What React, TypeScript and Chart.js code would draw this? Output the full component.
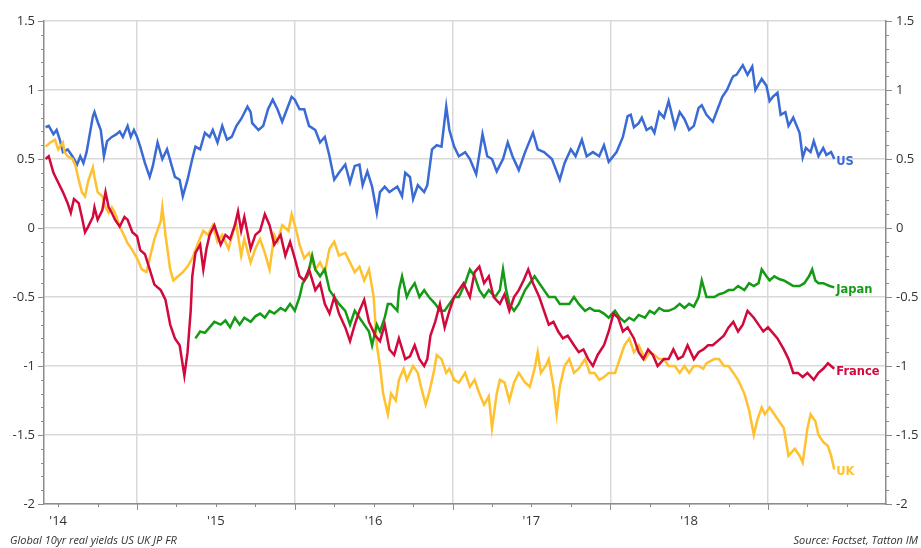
import React, { useEffect, useRef } from 'react';
import { Chart, registerables } from 'chart.js';

Chart.register(...registerables);

// [decimal year, real yield %]
const US: [number, number][] = [
  [2014.42, 0.73], [2014.44, 0.74], [2014.47, 0.68], [2014.49, 0.71], [2014.51, 0.64], [2014.53, 0.55],
  [2014.56, 0.57], [2014.59, 0.52], [2014.62, 0.46], [2014.64, 0.52], [2014.66, 0.47], [2014.68, 0.55],
  [2014.72, 0.81], [2014.73, 0.84], [2014.75, 0.77], [2014.77, 0.71], [2014.79, 0.52], [2014.81, 0.63],
  [2014.84, 0.66], [2014.87, 0.68], [2014.89, 0.70], [2014.91, 0.66], [2014.94, 0.74], [2014.96, 0.66],
  [2014.98, 0.71], [2015.00, 0.66], [2015.02, 0.59], [2015.05, 0.47], [2015.08, 0.37], [2015.10, 0.45],
  [2015.13, 0.62], [2015.16, 0.50], [2015.19, 0.57], [2015.22, 0.45], [2015.24, 0.37], [2015.27, 0.35],
  [2015.29, 0.23], [2015.32, 0.35], [2015.35, 0.50], [2015.37, 0.59], [2015.40, 0.57], [2015.43, 0.69],
  [2015.46, 0.66], [2015.48, 0.71], [2015.51, 0.62], [2015.54, 0.74], [2015.57, 0.64], [2015.60, 0.66],
  [2015.63, 0.74], [2015.66, 0.79], [2015.70, 0.88], [2015.72, 0.84], [2015.73, 0.76], [2015.77, 0.71],
  [2015.80, 0.74], [2015.83, 0.86], [2015.86, 0.93], [2015.89, 0.86], [2015.92, 0.77], [2015.95, 0.86],
  [2015.98, 0.95], [2016.00, 0.93], [2016.03, 0.86], [2016.06, 0.86], [2016.09, 0.74], [2016.13, 0.71],
  [2016.16, 0.62], [2016.19, 0.66], [2016.22, 0.52], [2016.25, 0.35], [2016.28, 0.40], [2016.32, 0.46],
  [2016.35, 0.33], [2016.38, 0.45], [2016.41, 0.46], [2016.43, 0.31], [2016.46, 0.41], [2016.49, 0.30],
  [2016.52, 0.11], [2016.54, 0.26], [2016.57, 0.30], [2016.60, 0.26], [2016.65, 0.30], [2016.68, 0.23],
  [2016.70, 0.40], [2016.73, 0.37], [2016.75, 0.21], [2016.78, 0.31], [2016.82, 0.26], [2016.84, 0.31],
  [2016.87, 0.57], [2016.90, 0.60], [2016.93, 0.59], [2016.96, 0.88], [2016.98, 0.71], [2017.01, 0.59],
  [2017.04, 0.52], [2017.08, 0.55], [2017.11, 0.50], [2017.15, 0.39], [2017.19, 0.68], [2017.22, 0.52],
  [2017.25, 0.50], [2017.28, 0.41], [2017.32, 0.50], [2017.35, 0.62], [2017.38, 0.52], [2017.42, 0.42],
  [2017.46, 0.55], [2017.51, 0.69], [2017.54, 0.57], [2017.58, 0.55], [2017.63, 0.50], [2017.68, 0.35],
  [2017.71, 0.47], [2017.75, 0.57], [2017.78, 0.52], [2017.82, 0.64], [2017.85, 0.52], [2017.89, 0.55],
  [2017.93, 0.52], [2017.96, 0.60], [2017.99, 0.48], [2018.04, 0.55], [2018.08, 0.66], [2018.11, 0.81],
  [2018.13, 0.82], [2018.15, 0.73], [2018.18, 0.76], [2018.20, 0.80], [2018.23, 0.71], [2018.26, 0.73],
  [2018.28, 0.69], [2018.31, 0.84], [2018.34, 0.80], [2018.37, 0.92], [2018.41, 0.73], [2018.44, 0.84],
  [2018.47, 0.79], [2018.50, 0.71], [2018.53, 0.74], [2018.56, 0.87], [2018.58, 0.89], [2018.61, 0.82],
  [2018.65, 0.77], [2018.68, 0.86], [2018.71, 0.95], [2018.74, 1.00], [2018.77, 1.08], [2018.78, 1.10],
  [2018.80, 1.11], [2018.84, 1.18], [2018.87, 1.11], [2018.90, 1.17], [2018.92, 1.00], [2018.96, 1.08],
  [2018.99, 1.03], [2019.01, 0.92], [2019.03, 0.95], [2019.06, 0.98], [2019.08, 0.82], [2019.11, 0.84],
  [2019.13, 0.74], [2019.16, 0.80], [2019.20, 0.69], [2019.22, 0.51], [2019.24, 0.58], [2019.27, 0.55],
  [2019.29, 0.63], [2019.32, 0.52], [2019.35, 0.58], [2019.37, 0.53], [2019.40, 0.55], [2019.42, 0.50],
];

const UK: [number, number][] = [
  [2014.42, 0.59], [2014.45, 0.62], [2014.48, 0.64], [2014.50, 0.57], [2014.53, 0.62], [2014.54, 0.55],
  [2014.56, 0.52], [2014.59, 0.50], [2014.61, 0.45], [2014.63, 0.35], [2014.65, 0.26], [2014.67, 0.23],
  [2014.69, 0.34], [2014.72, 0.44], [2014.73, 0.37], [2014.75, 0.26], [2014.78, 0.23], [2014.80, 0.15],
  [2014.82, 0.11], [2014.84, 0.15], [2014.86, 0.11], [2014.89, 0.01], [2014.92, -0.06], [2014.94, -0.11],
  [2014.97, -0.16], [2015.00, -0.22], [2015.03, -0.30], [2015.06, -0.32], [2015.08, -0.22], [2015.11, -0.08],
  [2015.15, 0.05], [2015.16, 0.15], [2015.18, -0.05], [2015.21, -0.30], [2015.23, -0.38], [2015.26, -0.35],
  [2015.29, -0.32], [2015.32, -0.28], [2015.35, -0.22], [2015.39, -0.10], [2015.42, -0.02], [2015.45, -0.05],
  [2015.48, 0.02], [2015.51, -0.10], [2015.54, -0.05], [2015.58, -0.15], [2015.61, -0.02], [2015.63, 0.02],
  [2015.66, -0.20], [2015.68, -0.08], [2015.72, -0.25], [2015.75, -0.15], [2015.78, -0.08], [2015.81, -0.18],
  [2015.84, -0.30], [2015.87, -0.05], [2015.89, -0.10], [2015.92, 0.02], [2015.96, -0.02], [2015.98, 0.10],
  [2016.01, -0.02], [2016.03, -0.12], [2016.06, -0.22], [2016.09, -0.18], [2016.13, -0.30], [2016.16, -0.25],
  [2016.19, -0.32], [2016.22, -0.15], [2016.25, -0.10], [2016.28, -0.20], [2016.32, -0.18], [2016.35, -0.25],
  [2016.38, -0.32], [2016.41, -0.28], [2016.44, -0.38], [2016.47, -0.30], [2016.50, -0.50], [2016.52, -0.85],
  [2016.54, -1.00], [2016.56, -1.20], [2016.59, -1.35], [2016.61, -1.20], [2016.64, -1.25], [2016.66, -1.10],
  [2016.69, -1.02], [2016.71, -1.10], [2016.75, -1.00], [2016.78, -1.05], [2016.80, -1.15], [2016.83, -1.28],
  [2016.85, -1.20], [2016.88, -1.05], [2016.90, -0.92], [2016.93, -0.95], [2016.96, -1.05], [2016.98, -1.02],
  [2017.01, -1.10], [2017.04, -1.12], [2017.08, -1.05], [2017.11, -1.15], [2017.14, -1.10], [2017.17, -1.20],
  [2017.20, -1.28], [2017.23, -1.22], [2017.25, -1.45], [2017.28, -1.20], [2017.30, -1.10], [2017.33, -1.12],
  [2017.36, -1.25], [2017.39, -1.12], [2017.42, -1.05], [2017.46, -1.12], [2017.49, -1.15], [2017.52, -1.02],
  [2017.54, -0.90], [2017.56, -1.05], [2017.59, -1.00], [2017.61, -0.95], [2017.64, -1.15], [2017.66, -1.35],
  [2017.68, -1.15], [2017.71, -1.00], [2017.74, -0.95], [2017.77, -1.05], [2017.80, -1.02], [2017.84, -0.95],
  [2017.87, -1.05], [2017.90, -1.05], [2017.93, -1.10], [2017.96, -1.08], [2017.99, -1.05], [2018.03, -1.05],
  [2018.06, -0.95], [2018.09, -0.85], [2018.12, -0.80], [2018.15, -0.90], [2018.18, -0.85], [2018.22, -0.95],
  [2018.25, -0.90], [2018.28, -0.92], [2018.31, -0.95], [2018.34, -0.95], [2018.37, -1.00], [2018.41, -1.00],
  [2018.44, -1.05], [2018.47, -1.00], [2018.50, -1.05], [2018.53, -1.00], [2018.56, -1.00], [2018.59, -1.02],
  [2018.61, -0.98], [2018.66, -0.95], [2018.69, -0.95], [2018.72, -1.00], [2018.75, -1.00], [2018.78, -1.05],
  [2018.81, -1.10], [2018.85, -1.20], [2018.88, -1.32], [2018.91, -1.50], [2018.93, -1.40], [2018.96, -1.30],
  [2018.98, -1.35], [2019.01, -1.30], [2019.04, -1.35], [2019.07, -1.40], [2019.10, -1.45], [2019.13, -1.65],
  [2019.17, -1.60], [2019.20, -1.65], [2019.22, -1.70], [2019.25, -1.45], [2019.27, -1.35], [2019.30, -1.40],
  [2019.32, -1.50], [2019.35, -1.55], [2019.38, -1.58], [2019.40, -1.65], [2019.42, -1.75],
];

const JAPAN: [number, number][] = [
  [2015.37, -0.80], [2015.40, -0.75], [2015.43, -0.76], [2015.46, -0.72], [2015.49, -0.68], [2015.53, -0.70],
  [2015.56, -0.67], [2015.59, -0.72], [2015.62, -0.65], [2015.65, -0.70], [2015.68, -0.65], [2015.72, -0.68],
  [2015.75, -0.64], [2015.78, -0.62], [2015.81, -0.65], [2015.84, -0.60], [2015.87, -0.62], [2015.91, -0.58],
  [2015.94, -0.60], [2015.97, -0.55], [2016.00, -0.60], [2016.03, -0.50], [2016.05, -0.40], [2016.08, -0.35],
  [2016.09, -0.30], [2016.11, -0.20], [2016.13, -0.30], [2016.16, -0.35], [2016.19, -0.30], [2016.22, -0.45],
  [2016.25, -0.50], [2016.28, -0.55], [2016.32, -0.60], [2016.35, -0.70], [2016.38, -0.60], [2016.41, -0.65],
  [2016.44, -0.70], [2016.47, -0.75], [2016.49, -0.85], [2016.52, -0.70], [2016.54, -0.75], [2016.57, -0.65],
  [2016.59, -0.55], [2016.61, -0.55], [2016.65, -0.60], [2016.66, -0.45], [2016.68, -0.35], [2016.71, -0.50],
  [2016.73, -0.45], [2016.76, -0.40], [2016.79, -0.50], [2016.82, -0.45], [2016.85, -0.50], [2016.89, -0.55],
  [2016.92, -0.60], [2016.95, -0.60], [2016.98, -0.55], [2017.01, -0.50], [2017.04, -0.50], [2017.08, -0.40],
  [2017.11, -0.30], [2017.14, -0.35], [2017.17, -0.45], [2017.20, -0.50], [2017.23, -0.45], [2017.27, -0.50],
  [2017.30, -0.45], [2017.32, -0.30], [2017.34, -0.45], [2017.36, -0.55], [2017.39, -0.60], [2017.42, -0.55],
  [2017.46, -0.45], [2017.49, -0.40], [2017.52, -0.35], [2017.55, -0.40], [2017.58, -0.45], [2017.61, -0.50],
  [2017.65, -0.50], [2017.68, -0.55], [2017.71, -0.55], [2017.74, -0.55], [2017.77, -0.50], [2017.80, -0.55],
  [2017.84, -0.60], [2017.87, -0.58], [2017.90, -0.60], [2017.93, -0.60], [2017.96, -0.62], [2017.99, -0.65],
  [2018.03, -0.60], [2018.06, -0.65], [2018.09, -0.68], [2018.12, -0.65], [2018.15, -0.67], [2018.18, -0.63],
  [2018.22, -0.65], [2018.25, -0.60], [2018.28, -0.62], [2018.31, -0.58], [2018.34, -0.60], [2018.37, -0.60],
  [2018.41, -0.58], [2018.44, -0.55], [2018.47, -0.58], [2018.50, -0.55], [2018.53, -0.57], [2018.56, -0.50],
  [2018.58, -0.38], [2018.61, -0.50], [2018.63, -0.50], [2018.66, -0.50], [2018.69, -0.48], [2018.72, -0.47],
  [2018.75, -0.45], [2018.78, -0.45], [2018.81, -0.42], [2018.85, -0.45], [2018.88, -0.40], [2018.91, -0.42],
  [2018.94, -0.40], [2018.96, -0.30], [2018.99, -0.35], [2019.01, -0.38], [2019.04, -0.35], [2019.07, -0.37],
  [2019.10, -0.38], [2019.13, -0.40], [2019.16, -0.42], [2019.20, -0.42], [2019.23, -0.40], [2019.26, -0.35],
  [2019.28, -0.30], [2019.30, -0.38], [2019.32, -0.40], [2019.35, -0.40], [2019.39, -0.42], [2019.42, -0.43],
];

const FRANCE: [number, number][] = [
  [2014.42, 0.50], [2014.44, 0.52], [2014.47, 0.40], [2014.50, 0.33], [2014.53, 0.26], [2014.56, 0.18],
  [2014.58, 0.11], [2014.60, 0.21], [2014.63, 0.18], [2014.65, 0.08], [2014.67, -0.03], [2014.69, 0.01],
  [2014.72, 0.08], [2014.73, 0.15], [2014.75, 0.06], [2014.78, 0.13], [2014.80, 0.26], [2014.82, 0.15],
  [2014.84, 0.11], [2014.86, 0.06], [2014.89, 0.01], [2014.92, 0.08], [2014.94, 0.06], [2014.97, -0.03],
  [2015.00, -0.06], [2015.02, -0.16], [2015.05, -0.19], [2015.08, -0.30], [2015.11, -0.41], [2015.15, -0.45],
  [2015.18, -0.52], [2015.21, -0.70], [2015.24, -0.80], [2015.27, -0.85], [2015.30, -1.07], [2015.32, -0.90],
  [2015.34, -0.60], [2015.35, -0.35], [2015.37, -0.18], [2015.40, -0.12], [2015.42, -0.30], [2015.44, -0.15],
  [2015.46, -0.05], [2015.49, 0.02], [2015.53, -0.12], [2015.56, -0.05], [2015.59, -0.08], [2015.62, 0.02],
  [2015.64, 0.12], [2015.66, -0.02], [2015.68, 0.08], [2015.72, -0.15], [2015.75, -0.05], [2015.78, -0.02],
  [2015.81, 0.10], [2015.84, 0.02], [2015.87, -0.12], [2015.91, -0.05], [2015.94, -0.20], [2015.97, -0.10],
  [2016.00, -0.22], [2016.03, -0.35], [2016.06, -0.38], [2016.09, -0.30], [2016.13, -0.45], [2016.16, -0.40],
  [2016.19, -0.55], [2016.22, -0.62], [2016.25, -0.50], [2016.28, -0.62], [2016.32, -0.72], [2016.35, -0.82],
  [2016.38, -0.70], [2016.41, -0.60], [2016.44, -0.52], [2016.47, -0.68], [2016.51, -0.78], [2016.54, -0.82],
  [2016.57, -0.70], [2016.60, -0.88], [2016.63, -0.92], [2016.66, -0.80], [2016.70, -0.95], [2016.73, -0.93],
  [2016.76, -0.85], [2016.79, -0.95], [2016.82, -1.00], [2016.84, -0.95], [2016.86, -0.78], [2016.89, -0.68],
  [2016.92, -0.55], [2016.95, -0.72], [2016.98, -0.60], [2017.01, -0.50], [2017.04, -0.45], [2017.07, -0.40],
  [2017.11, -0.50], [2017.14, -0.32], [2017.17, -0.28], [2017.20, -0.40], [2017.23, -0.35], [2017.26, -0.50],
  [2017.30, -0.55], [2017.33, -0.48], [2017.36, -0.60], [2017.39, -0.50], [2017.42, -0.45], [2017.45, -0.38],
  [2017.48, -0.30], [2017.51, -0.40], [2017.55, -0.50], [2017.58, -0.60], [2017.61, -0.70], [2017.64, -0.68],
  [2017.67, -0.75], [2017.70, -0.80], [2017.73, -0.78], [2017.77, -0.85], [2017.80, -0.90], [2017.83, -0.88],
  [2017.86, -0.95], [2017.89, -1.00], [2017.92, -0.92], [2017.96, -0.85], [2017.99, -0.75], [2018.02, -0.62],
  [2018.05, -0.65], [2018.08, -0.75], [2018.11, -0.72], [2018.15, -0.80], [2018.18, -0.90], [2018.21, -0.95],
  [2018.24, -0.88], [2018.27, -0.92], [2018.30, -1.00], [2018.34, -0.95], [2018.37, -0.95], [2018.40, -0.88],
  [2018.43, -0.95], [2018.46, -0.93], [2018.49, -0.85], [2018.53, -0.95], [2018.56, -0.90], [2018.59, -0.88],
  [2018.62, -0.85], [2018.65, -0.85], [2018.68, -0.82], [2018.72, -0.78], [2018.75, -0.72], [2018.78, -0.68],
  [2018.81, -0.75], [2018.84, -0.70], [2018.87, -0.60], [2018.91, -0.65], [2018.94, -0.70], [2018.97, -0.75],
  [2019.00, -0.72], [2019.03, -0.76], [2019.06, -0.80], [2019.10, -0.88], [2019.13, -0.95], [2019.16, -1.05],
  [2019.19, -1.05], [2019.22, -1.08], [2019.25, -1.05], [2019.29, -1.10], [2019.32, -1.05], [2019.35, -1.02],
  [2019.38, -0.98], [2019.42, -1.02],
];

const SERIES_NAMES = ['France', 'Japan', 'UK', 'US'];
const SERIES_COLORS = ['#d2093c', '#159a15', '#ffc12e', '#3a6ad4'];
const Y_TICKS = [-2, -1.5, -1, -0.5, 0, 0.5, 1, 1.5];
const YEARS = [2014, 2015, 2016, 2017, 2018, 2019];
const YEAR_LABELS: Record<number, string> = { 2014: "'14", 2015: "'15", 2016: "'16", 2017: "'17", 2018: "'18" };
const X_MIN = 2014.41;
const X_MAX = 2019.748;
const TITLE_LEFT = 'Global 10yr real yields US UK JP FR';
const TITLE_RIGHT = 'Source: Factset, Tatton IM';

const AXIS_COLOR = '#8c8c8c';
const GRID_COLOR = '#d9d9d9';
const TEXT_COLOR = '#333333';
const TICK_FONT = { family: '"Open Sans", sans-serif', size: 13 };

const quarterTicks: number[] = [];
YEARS.forEach((yr) => {
  [0, 0.25, 0.5, 0.75].forEach((q) => {
    const v = yr + q;
    if (v >= X_MIN && v <= X_MAX) quarterTicks.push(v);
  });
});

const isInt = (v: number) => Math.abs(v - Math.round(v)) < 1e-6;

const tickMarksPlugin = {
  id: 'tickMarks',
  afterDraw(chart: any) {
    const { ctx, chartArea, scales } = chart;
    const ys = scales.y;
    const xs = scales.x;
    ctx.save();
    ctx.strokeStyle = AXIS_COLOR;
    ctx.lineWidth = 1;
    ctx.beginPath();
    for (let k = -20; k <= 15; k++) {
      const py = Math.round(ys.getPixelForValue(k / 10)) + 0.5;
      const len = k % 5 === 0 ? 6 : 3;
      ctx.moveTo(chartArea.left - len, py);
      ctx.lineTo(chartArea.left, py);
      ctx.moveTo(chartArea.right, py);
      ctx.lineTo(chartArea.right + len, py);
    }
    quarterTicks.forEach((v) => {
      const px = Math.round(xs.getPixelForValue(v)) + 0.5;
      const len = isInt(v) ? 6 : 3;
      ctx.moveTo(px, chartArea.bottom);
      ctx.lineTo(px, chartArea.bottom + len);
    });
    ctx.stroke();

    // footer texts
    ctx.fillStyle = TEXT_COLOR;
    ctx.font = 'italic 11px "Open Sans", sans-serif';
    ctx.textBaseline = 'middle';
    ctx.textAlign = 'left';
    ctx.fillText(TITLE_LEFT, 10, 541);
    ctx.textAlign = 'right';
    ctx.fillText(TITLE_RIGHT, 918, 541);

    // series end labels
    ctx.font = 'bold 11.5px "DejaVu Sans", sans-serif';
    ctx.textAlign = 'left';
    chart.data.datasets.forEach((ds: any, i: number) => {
      const last = ds.data[ds.data.length - 1];
      const px = xs.getPixelForValue(last.x) + 2;
      const py = ys.getPixelForValue(last.y) + 3;
      ctx.fillStyle = SERIES_COLORS[i];
      ctx.fillText(SERIES_NAMES[i], px, py);
    });
    ctx.restore();
  },
};

export default function App() {
  const canvasRef = useRef<HTMLCanvasElement | null>(null);

  useEffect(() => {
    if (!canvasRef.current) return;
    const all = [FRANCE, JAPAN, UK, US];
    const yAxisCommon = {
      type: 'linear' as const,
      min: -2,
      max: 1.5,
      afterBuildTicks: (s: any) => {
        s.ticks = Y_TICKS.map((v) => ({ value: v }));
      },
      border: { color: AXIS_COLOR, width: 1.5 },
    };
    const chart = new Chart(canvasRef.current, {
      type: 'line',
      data: {
        datasets: all.map((series, i) => ({
          label: SERIES_NAMES[i],
          data: series.map(([x, y]) => ({ x, y })),
          borderColor: SERIES_COLORS[i],
          backgroundColor: SERIES_COLORS[i],
          borderWidth: 2.5,
          pointRadius: 0,
          tension: 0,
          fill: false,
          yAxisID: 'y',
        })),
      },
      options: {
        animation: false,
        responsive: false,
        layout: { padding: { top: 21, left: 0, right: 0, bottom: 0 } },
        plugins: { legend: { display: false }, tooltip: { enabled: false } },
        scales: {
          x: {
            type: 'linear',
            min: X_MIN,
            max: X_MAX,
            afterBuildTicks: (s: any) => {
              s.ticks = quarterTicks.map((v) => ({ value: v }));
            },
            afterFit: (s: any) => {
              s.height = 44;
            },
            ticks: {
              autoSkip: false,
              maxRotation: 0,
              padding: 9,
              color: TEXT_COLOR,
              font: TICK_FONT,
              callback: (v: any) => {
                const n = Number(v);
                if (Math.abs(n - Math.floor(n) - 0.5) < 1e-6) return YEAR_LABELS[Math.floor(n)] || '';
                return '';
              },
            },
            grid: {
              color: (c: any) => (c.tick && isInt(c.tick.value) ? GRID_COLOR : 'rgba(0,0,0,0)'),
              lineWidth: 1.5,
              drawTicks: false,
            },
            border: { color: AXIS_COLOR, width: 1.5 },
          },
          y: {
            ...yAxisCommon,
            position: 'left',
            afterFit: (s: any) => {
              s.width = 44;
            },
            ticks: { padding: 9, color: TEXT_COLOR, font: TICK_FONT, callback: (v: any) => String(v) },
            grid: { color: GRID_COLOR, lineWidth: 1.5, drawTicks: false },
          },
          y2: {
            ...yAxisCommon,
            position: 'right',
            afterFit: (s: any) => {
              s.width = 35;
            },
            ticks: { padding: 10, color: TEXT_COLOR, font: TICK_FONT, callback: (v: any) => String(v) },
            grid: { drawOnChartArea: false, drawTicks: false },
          },
        },
      },
      plugins: [tickMarksPlugin],
    });
    return () => chart.destroy();
  }, []);

  return (
    <div style={{ position: 'absolute', left: 0, top: 0, width: 921, height: 548, background: '#ffffff' }}>
      <canvas ref={canvasRef} width={921} height={548} />
    </div>
  );
}
